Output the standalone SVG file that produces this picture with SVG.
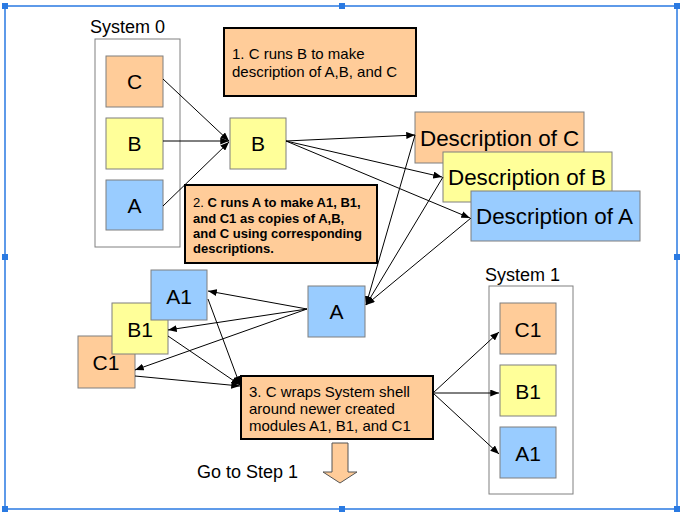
<svg xmlns="http://www.w3.org/2000/svg" width="684" height="514" viewBox="0 0 684 514">
<defs>
<style>
text{font-family:"Liberation Sans",Arial,sans-serif;fill:#000}
.node{stroke:#7f7f7f;stroke-width:1}
.c{fill:#FFCC99}.b{fill:#FFFF99}.a{fill:#99CCFF}
.lbl{font-size:21px;text-anchor:middle}
.desc{font-size:22.4px}
.t15{font-size:15px}
.t18{font-size:18px}
.step{fill:#FFCC99;stroke:#000;stroke-width:2}
.sys{fill:#fff;stroke:#808080;stroke-width:1}
.conn line{stroke:#000;stroke-width:1;marker-end:url(#ah)}
.sel{fill:none;stroke:#2a7ae2;stroke-width:1.5}
.h{fill:#2a7ae2}
</style>
<marker id="ah" viewBox="0 0 10 8" refX="10" refY="4" markerWidth="9" markerHeight="7" markerUnits="userSpaceOnUse" orient="auto">
<path d="M0,0 L10,4 L0,8 z" fill="#000"/>
</marker>
</defs>
<rect width="684" height="514" fill="#fff"/>
<g id="frame">
<rect class="sel" x="5" y="6" width="672" height="503"/>
<rect class="h" x="2" y="3" width="6" height="6"/>
<rect class="h" x="339" y="3" width="6" height="6"/>
<rect class="h" x="674" y="3" width="6" height="6"/>
<rect class="h" x="2" y="254" width="6" height="6"/>
<rect class="h" x="674" y="254" width="6" height="6"/>
<rect class="h" x="2" y="506" width="6" height="6"/>
<rect class="h" x="339" y="506" width="6" height="6"/>
<rect class="h" x="674" y="506" width="6" height="6"/>
</g>
<g id="system0">
<text class="t18" x="90" y="33">System 0</text>
<rect class="sys" x="95" y="39" width="85" height="208"/>
</g>
<g id="s0C"><rect class="node c" x="106" y="56" width="57" height="51"/><text class="lbl" x="134.5" y="89">C</text></g>
<g id="s0B"><rect class="node b" x="106" y="118" width="57" height="51"/><text class="lbl" x="134.5" y="151">B</text></g>
<g id="s0A"><rect class="node a" x="106" y="180" width="57" height="50"/><text class="lbl" x="134.5" y="213">A</text></g>
<g id="step1"><rect class="step" x="224" y="28" width="192" height="68"/>
<text class="t15" x="232" y="59">1. C runs B to make</text>
<text class="t15" x="232" y="77">description of A,B, and C</text></g>
<g id="midB"><rect class="node b" x="230" y="118" width="56" height="51"/><text class="lbl" x="258" y="151">B</text></g>
<g id="step2"><rect class="step" x="185" y="185" width="192" height="78"/>
<text x="193" y="207" font-size="13"><tspan>2. </tspan><tspan font-weight="bold">C runs A to make A1, B1,</tspan></text>
<text x="193" y="223" font-size="13" font-weight="bold">and C1 as copies of A,B,</text>
<text x="193" y="238" font-size="13" font-weight="bold">and C using corresponding</text>
<text x="193" y="253" font-size="13" font-weight="bold">descriptions.</text></g>
<g id="descC"><rect class="node c" x="415" y="112" width="169" height="51"/><text class="desc" x="420" y="146">Description of C</text></g>
<g id="descB"><rect class="node b" x="443" y="152" width="169" height="50"/><text class="desc" x="448" y="185">Description of B</text></g>
<g id="descA"><rect class="node a" x="471" y="191" width="169" height="50"/><text class="desc" x="476" y="224">Description of A</text></g>
<g id="nodeA"><rect class="node a" x="308" y="286" width="57" height="51"/><text class="lbl" x="336.5" y="319">A</text></g>
<g id="copyC1"><rect class="node c" x="78" y="336" width="57" height="52"/><text class="lbl" x="106" y="370">C1</text></g>
<g id="copyB1"><rect class="node b" x="112" y="303" width="56" height="51"/><text class="lbl" x="140" y="337">B1</text></g>
<g id="copyA1"><rect class="node a" x="151" y="270" width="56" height="50"/><text class="lbl" x="179" y="304">A1</text></g>
<g id="step3"><rect class="step" x="241" y="376" width="192" height="63"/>
<text class="t15" x="249" y="397">3. C wraps System shell</text>
<text class="t15" x="249" y="414">around newer created</text>
<text class="t15" x="249" y="431">modules A1, B1, and C1</text></g>
<g id="goto">
<path d="M332,443 L348,443 L348,472 L357,472 L340,483 L323,472 L332,472 Z" fill="#FFCC99" stroke="#555" stroke-width="1"/>
<text class="t18" x="197" y="478">Go to Step 1</text>
</g>
<g id="system1">
<text class="t18" x="485" y="281">System 1</text>
<rect class="sys" x="489" y="286" width="84" height="208"/>
</g>
<g id="s1C1"><rect class="node c" x="500" y="303" width="56" height="51"/><text class="lbl" x="528" y="337">C1</text></g>
<g id="s1B1"><rect class="node b" x="500" y="365" width="56" height="51"/><text class="lbl" x="528" y="399">B1</text></g>
<g id="s1A1"><rect class="node a" x="500" y="427" width="56" height="51"/><text class="lbl" x="528" y="461">A1</text></g>
<g id="connectors" class="conn">
<line x1="163" y1="79" x2="229" y2="141"/>
<line x1="163" y1="141" x2="229" y2="141"/>
<line x1="163" y1="206" x2="229" y2="142"/>
<line x1="286" y1="141" x2="415" y2="135"/>
<line x1="286" y1="141" x2="442" y2="177"/>
<line x1="286" y1="141" x2="470" y2="218"/>
<line x1="415" y1="135" x2="366" y2="305"/>
<line x1="443" y1="177" x2="366" y2="305"/>
<line x1="471" y1="218" x2="366" y2="305"/>
<line x1="307" y1="309" x2="208" y2="291"/>
<line x1="307" y1="309" x2="168" y2="330"/>
<line x1="307" y1="309" x2="135" y2="370"/>
<line x1="208" y1="299" x2="240" y2="385"/>
<line x1="168" y1="336" x2="240" y2="385"/>
<line x1="135" y1="376" x2="240" y2="386"/>
<line x1="433" y1="393" x2="499" y2="332"/>
<line x1="433" y1="393" x2="499" y2="393"/>
<line x1="433" y1="393" x2="499" y2="454"/>
</g>
</svg>
